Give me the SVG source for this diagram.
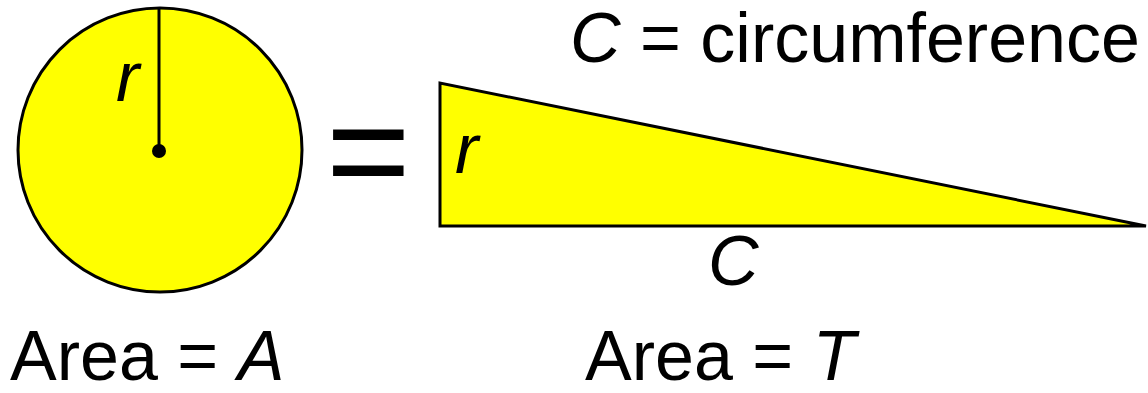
<svg xmlns="http://www.w3.org/2000/svg" width="1148" height="393" viewBox="0 0 1148 393">
<style>
.t{font-family:"Liberation Sans",Arial,sans-serif;font-size:70px;fill:#000}
.i{font-style:italic}
.shape{fill:#ffff00;stroke:#000;stroke-width:3}
</style>
<rect width="1148" height="393" fill="#fff"/>
<g id="circle">
<circle class="shape" cx="160" cy="150" r="142"/>
<line x1="159" y1="8" x2="159" y2="151" stroke="#000" stroke-width="3"/>
<circle cx="159" cy="151" r="7" fill="#000"/>
<text class="t i" x="116" y="101">r</text>
</g>
<g id="equals">
<text class="t" x="326" y="200" style="font-size:145px">=</text>
</g>
<g id="triangle">
<polygon class="shape" points="440,83 440,226 1146,226" stroke-linejoin="miter"/>
<text class="t i" x="455" y="173">r</text>
<text class="t i" x="708" y="285">C</text>
</g>
<g id="labels">
<text class="t" x="570" y="62"><tspan class="i">C</tspan> = circumference</text>
<text class="t" x="10" y="380">Area = <tspan class="i">A</tspan></text>
<text class="t" x="585" y="380">Area = <tspan class="i">T</tspan></text>
</g>
</svg>
